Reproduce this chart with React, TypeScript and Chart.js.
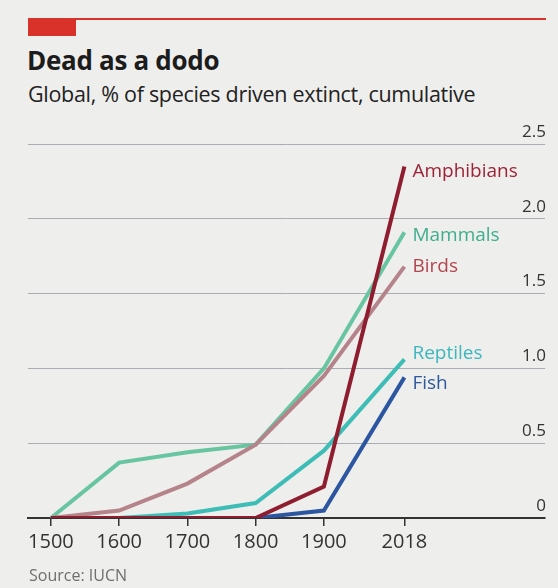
import React, { useEffect, useRef } from "react";
import { Chart, registerables } from "chart.js";

Chart.register(...registerables);

const years = [1500, 1600, 1700, 1800, 1900, 2018];
const tickYears = [1500, 1600, 1700, 1800, 1900, 2018];
const amphibians = [0, 0, 0, 0, 0.21, 2.35];
const birds = [0, 0.05, 0.23, 0.49, 0.95, 1.68];
const mammals = [0, 0.37, 0.44, 0.49, 1.0, 1.91];
const reptiles = [0, 0, 0.03, 0.1, 0.45, 1.06];
const fish = [null, null, null, 0, 0.05, 0.94];
const seriesNames = ["Amphibians", "Birds", "Mammals", "Reptiles", "Fish"];

const FONT = "'Open Sans', Lato, sans-serif";

const lineColors = ["#8f1d30", "#b5838a", "#68c5a2", "#3dbdb6", "#2c57a0"];
const textColors = ["#9e2236", "#b5444f", "#3fae8e", "#3db7be", "#2d5a9c"];
const labelDy = [5, 0, 3, -6, 6];

const endLabels = {
  id: "endLabels",
  afterDatasetsDraw(chart: any) {
    const ctx = chart.ctx;
    ctx.save();
    ctx.font = `19px ${FONT}`;
    ctx.textAlign = "left";
    ctx.textBaseline = "middle";
    chart.data.datasets.forEach((ds: any, i: number) => {
      const meta = chart.getDatasetMeta(i);
      const pt = meta.data[meta.data.length - 1];
      if (!pt) return;
      ctx.fillStyle = textColors[i];
      ctx.fillText(ds.label, pt.x + 8, pt.y + labelDy[i]);
    });
    ctx.restore();
  },
};

export default function App() {
  const ref = useRef<HTMLCanvasElement | null>(null);

  useEffect(() => {
    document.body.style.margin = "0";
    const values = [amphibians, birds, mammals, reptiles, fish];
    const chart = new Chart(ref.current as HTMLCanvasElement, {
      type: "line",
      data: {
        datasets: values.map((arr, i) => ({
          label: seriesNames[i],
          data: years.map((y, j) => ({ x: y, y: arr[j] as any })),
          borderColor: lineColors[i],
          backgroundColor: lineColors[i],
          borderWidth: 4,
          pointRadius: 0,
          tension: 0,
          borderCapStyle: "butt" as const,
          borderJoinStyle: "miter" as const,
          spanGaps: false,
        })),
      },
      options: {
        animation: false,
        responsive: false,
        maintainAspectRatio: false,
        layout: { padding: { left: 28, right: 11, top: 44, bottom: 30 } },
        plugins: { legend: { display: false }, tooltip: { enabled: false } },
        scales: {
          x: {
            type: "linear",
            min: 1466.4,
            max: 2224,
            afterBuildTicks: (scale: any) => {
              scale.ticks = tickYears.map((v) => ({ value: v }));
            },
            ticks: {
              autoSkip: false,
              maxRotation: 0,
              padding: 4,
              color: "#333333",
              font: { family: FONT, size: 20 },
              callback: (v: any) => String(v),
            },
            grid: {
              display: true,
              drawOnChartArea: false,
              drawTicks: true,
              tickLength: 8,
              color: "#333333",
              lineWidth: 1.5,
            },
            border: { display: true, color: "#333333", width: 2 },
          },
          y: {
            position: "right",
            min: 0,
            max: 2.5,
            ticks: {
              stepSize: 0.5,
              mirror: true,
              labelOffset: -12,
              padding: 1,
              color: "#333333",
              font: { family: FONT, size: 17 },
              callback: (v: any) => (Number(v) === 0 ? "0" : Number(v).toFixed(1)),
            },
            grid: { color: "#a6adb4", lineWidth: 1, drawTicks: false },
            border: { display: false },
          },
        },
      },
      plugins: [endLabels],
    });
    return () => chart.destroy();
  }, []);

  return (
    <div
      style={{
        position: "relative",
        width: 558,
        height: 588,
        overflow: "hidden",
        background: "#eeeeec",
        fontFamily: FONT,
      }}
    >
      <div style={{ position: "absolute", left: 28, top: 18, width: 518, height: 1.5, background: "#d9322b" }} />
      <div style={{ position: "absolute", left: 28, top: 19, width: 48, height: 17, background: "#d9322b" }} />
      <div
        style={{
          position: "absolute",
          left: 27,
          top: 42,
          fontSize: 26,
          fontWeight: 700,
          color: "#1c1c1c",
          lineHeight: "36px",
          whiteSpace: "nowrap",
          letterSpacing: -0.3,
        }}
      >
        Dead as a dodo
      </div>
      <div
        style={{
          position: "absolute",
          left: 28,
          top: 79,
          fontSize: 21.5,
          color: "#222222",
          lineHeight: "30px",
          whiteSpace: "nowrap",
          letterSpacing: -0.3,
        }}
      >
        Global, % of species driven extinct, cumulative
      </div>
      <canvas
        ref={ref}
        width={558}
        height={488}
        style={{ position: "absolute", left: 0, top: 100, width: 558, height: 488 }}
      />
      <div
        style={{
          position: "absolute",
          left: 29,
          top: 563,
          fontSize: 16,
          color: "#6e6e6e",
          lineHeight: "24px",
          whiteSpace: "nowrap",
        }}
      >
        Source: IUCN
      </div>
    </div>
  );
}
